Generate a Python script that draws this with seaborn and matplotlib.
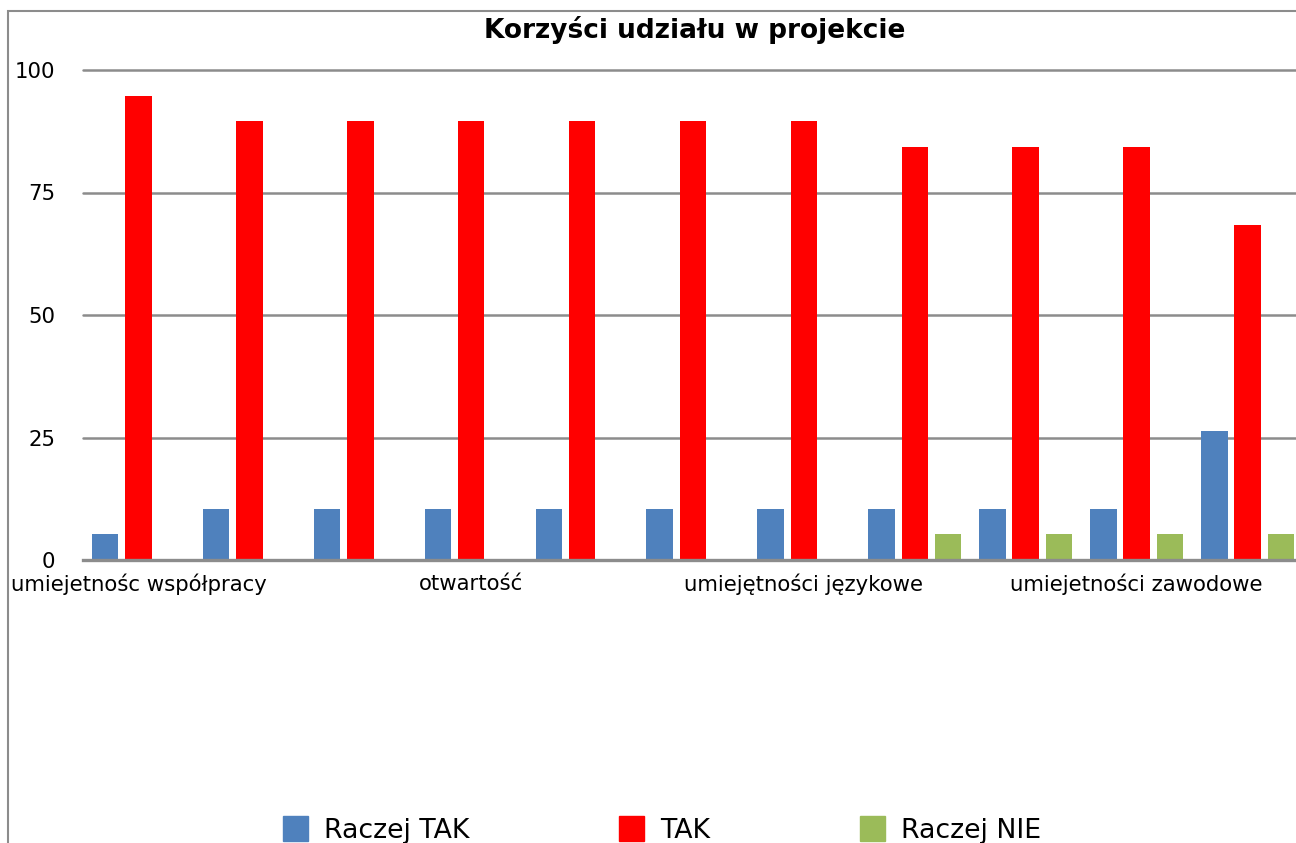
import pandas as pd
import matplotlib.pyplot as plt
import matplotlib.patches as mpatches
import seaborn as sns

# Categories (only every third label is shown in the original chart)
categories = [
    "umiejetnośc współpracy", "kategoria 2", "kategoria 3",
    "otwartość", "kategoria 5", "kategoria 6",
    "umiejętności językowe", "kategoria 8", "kategoria 9",
    "umiejetności zawodowe", "kategoria 11",
]
series_names = ["Raczej TAK", "TAK", "Raczej NIE"]
raczej_tak = [5.3, 10.5, 10.5, 10.5, 10.5, 10.5, 10.5, 10.5, 10.5, 10.5, 26.3]
tak = [94.7, 89.5, 89.5, 89.5, 89.5, 89.5, 89.5, 84.2, 84.2, 84.2, 68.4]
raczej_nie = [0, 0, 0, 0, 0, 0, 0, 5.3, 5.3, 5.3, 5.3]
colors = ["#4F81BD", "#FF0000", "#9BBB59"]

df = pd.DataFrame({
    "kategoria": categories * 3,
    "odp": [series_names[0]] * 11 + [series_names[1]] * 11 + [series_names[2]] * 11,
    "wartosc": raczej_tak + tak + raczej_nie,
})

sns.set_theme(style="white")
plt.rcParams["font.family"] = ["DejaVu Sans"]
plt.rcParams["text.color"] = "black"

W, H = 1296, 843
fig = plt.figure(figsize=(W / 100, H / 100), dpi=100)
ax = fig.add_axes([83 / W, 1 - 560 / H, (1303 - 83) / W, (560 - 70) / H])

sns.barplot(data=df, x="kategoria", y="wartosc", hue="odp", order=categories,
            hue_order=series_names, palette=colors, width=0.9, gap=0.2,
            saturation=1, linewidth=0, ax=ax, legend=False)

ax.set_ylim(0, 100)
ax.set_xlim(-0.5, len(categories) - 0.5)
ax.set_yticks([0, 25, 50, 75, 100])
ax.yaxis.grid(True, color="#8c8c8c", linewidth=1.8)
for gl in ax.get_ygridlines():
    gl.set_clip_on(False)
ax.set_axisbelow(True)
for s in ["left", "right", "top"]:
    ax.spines[s].set_visible(False)
ax.spines["bottom"].set_color("#8c8c8c")
ax.spines["bottom"].set_linewidth(2.4)
ax.set_xlabel("")
ax.set_ylabel("")
ax.set_xticks(range(len(categories)))
ax.set_xticklabels([c if i % 3 == 0 else "" for i, c in enumerate(categories)])
ax.tick_params(axis="x", length=0, pad=10, labelsize=15.3, colors="black")
ax.tick_params(axis="y", length=0, pad=20, labelsize=15.3, colors="black")

fig.text(695 / W, 1 - 30 / H, "Korzyści udziału w projekcie", ha="center",
         va="center", fontsize=19, fontweight="bold", color="black")

# outer chart frame
fig.patches.append(mpatches.Rectangle((8 / W, -0.1), 1.2, 1 - 11 / H + 0.1,
                                      transform=fig.transFigure, fill=False,
                                      edgecolor="#8c8c8c", linewidth=1.5))

handles = [mpatches.Patch(color=c, label=n) for c, n in zip(colors, series_names)]
fig.legend(handles=handles, loc="center", bbox_to_anchor=(662 / W, 1 - 830 / H),
           ncol=3, frameon=False, fontsize=19.3, handlelength=0.93,
           handleheight=1.05, handletextpad=0.6, columnspacing=5.6,
           labelcolor="black")

fig.savefig("out.png", dpi=100)
